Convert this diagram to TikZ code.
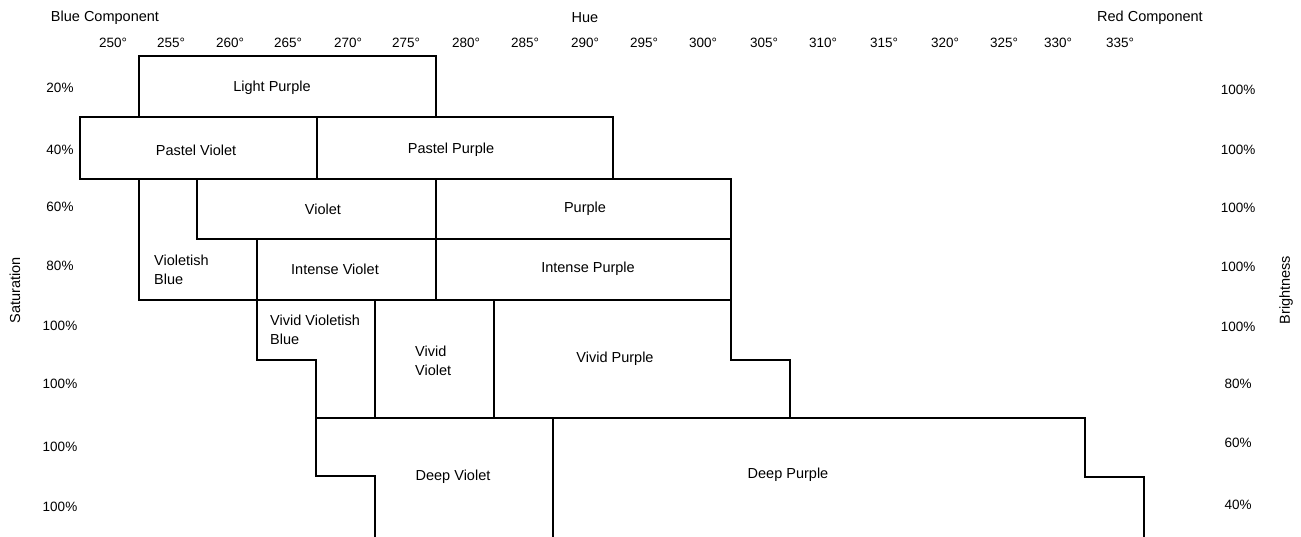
\documentclass[tikz,border=0pt]{standalone}
\usepackage{fontspec}
\setmainfont{Liberation Sans}
\usepackage{tikz}

\tikzset{
  cell/.style={draw=black, line width=1.1pt, line join=miter},
  lbl/.style={font=\fontsize{14.5}{19}\selectfont, inner sep=0pt},
  axislbl/.style={font=\fontsize{13.5}{16}\selectfont, inner sep=0pt}
}

\begin{document}
\begin{tikzpicture}[x=1pt, y=-1pt]

        \useasboundingbox (0,0) rectangle (1301,537);

        % ---------- Axis titles ----------
        \node[lbl] (bluecomp) at (105,18) {Blue Component};
        \node[lbl] (hue) at (585,18) {Hue};
        \node[lbl] (redcomp) at (1150,18) {Red Component};
        \node[lbl, rotate=90] (saturation) at (15,290) {Saturation};
        \node[lbl, rotate=90] (brightness) at (1286,290) {Brightness};

        % ---------- Hue scale ----------
        \foreach \deg/\xx in {250/113,255/171,260/230,265/288,270/348,275/406,
                              280/466,285/525,290/585,295/644,300/703,305/764,
                              310/823,315/884,320/945,325/1004,330/1058,335/1120}
          \node[axislbl] (deg\deg) at (\xx,43) {\deg°};

        % ---------- Saturation (left) ----------
        \foreach \pct/\yy [count=\i] in {20/88,40/150,60/207,80/266,100/326,100/384,100/447,100/507}
          \node[axislbl] (sat\i) at (60,\yy) {\pct\%};

        % ---------- Brightness (right) ----------
        \foreach \pct/\yy [count=\i] in {100/90,100/150,100/208,100/267,100/327,80/384,60/443,40/505}
          \node[axislbl] (bri\i) at (1238,\yy) {\pct\%};

        % ---------- Rows 20% and 40% ----------
        \draw[cell] (139,56) rectangle (436,117);
        \draw[cell] (80,117) rectangle (317,179);
        \draw[cell] (317,117) rectangle (613,179);

        % ---------- Rows 60% and 80% ----------
        \draw[cell] (197,179) rectangle (436,239);
        \draw[cell] (436,179) rectangle (731,239);
        \draw[cell] (139,179) -- (197,179) -- (197,239) -- (257,239) -- (257,300) -- (139,300) -- cycle;
        \draw[cell] (257,239) rectangle (436,300);
        \draw[cell] (436,239) rectangle (731,300);

        % ---------- Vivid row ----------
        \draw[cell] (257,300) -- (375,300) -- (375,418) -- (316,418) -- (316,360) -- (257,360) -- cycle;
        \draw[cell] (375,300) rectangle (494,418);
        \draw[cell] (494,300) -- (731,300) -- (731,360) -- (790,360) -- (790,418) -- (494,418) -- cycle;

        % ---------- Deep row ----------
        \draw[cell] (375,537) -- (375,476) -- (316,476) -- (316,418) -- (553,418) -- (553,537);
        \draw[cell] (553,418) -- (1085,418) -- (1085,477) -- (1144,477) -- (1144,537);

        % ---------- Colour names ----------
        \node[lbl] (lightpurple) at (272,88) {Light Purple};
        \node[lbl] (pastelviolet) at (196,150) {Pastel Violet};
        \node[lbl] (pastelpurple) at (451,150) {Pastel Purple};
        \node[lbl] (violet) at (323,209) {Violet};
        \node[lbl] (purple) at (585,209) {Purple};
        \node[lbl, anchor=west, align=left] (violetishblue) at (154,270) {Violetish\\Blue};
        \node[lbl] (intenseviolet) at (335,269) {Intense Violet};
        \node[lbl] (intensepurple) at (588,269) {Intense Purple};
        \node[lbl, anchor=west, align=left] (vividvioletishblue) at (270,330) {Vivid Violetish\\Blue};
        \node[lbl, anchor=west, align=left] (vividviolet) at (415,361) {Vivid\\Violet};
        \node[lbl] (vividpurple) at (615,359) {Vivid Purple};
        \node[lbl] (deepviolet) at (453,477) {Deep Violet};
        \node[lbl] (deeppurple) at (788,475) {Deep Purple};

\end{tikzpicture}
\end{document}
